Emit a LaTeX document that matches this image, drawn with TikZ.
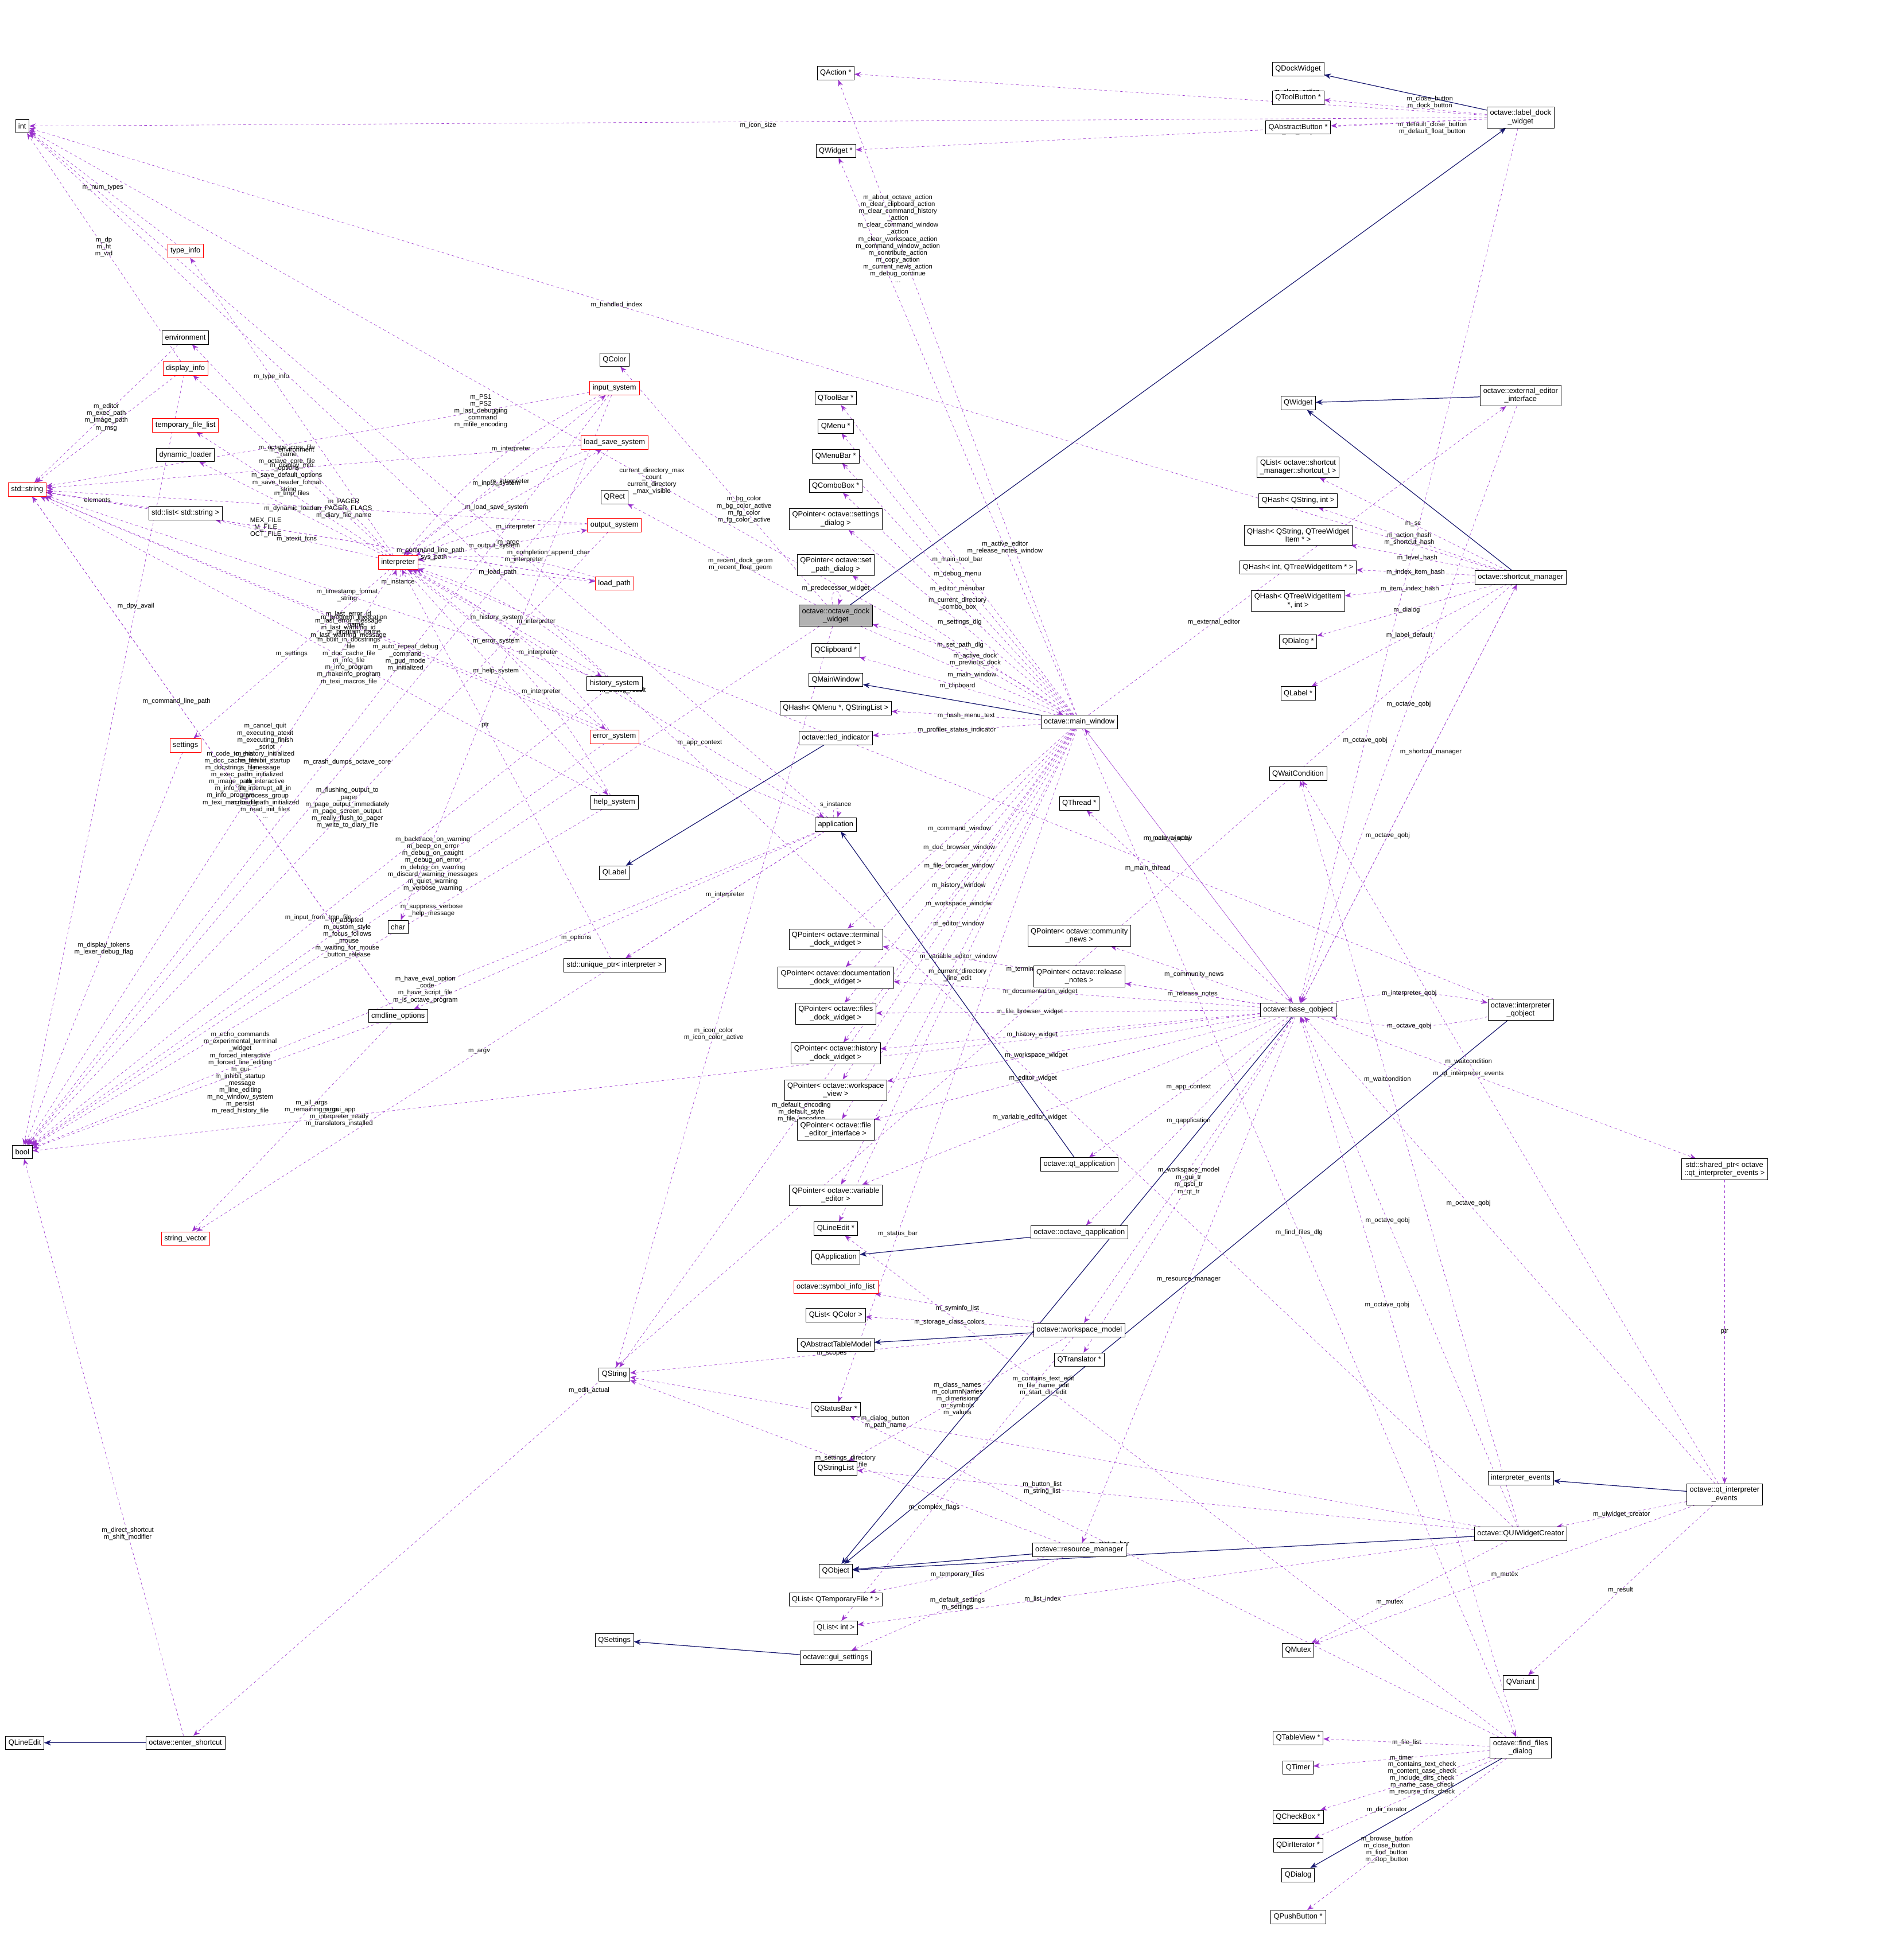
\documentclass[tikz,border=0pt]{standalone}
\usepackage{fontspec}
\setmainfont{Liberation Sans}
\usetikzlibrary{arrows.meta,backgrounds}
\definecolor{usecol}{HTML}{9A32CD}
\definecolor{inhcol}{HTML}{191970}
\tikzset{
  cls/.style={draw=black, fill=white, font=\fontsize{8.5}{9.5}\selectfont, inner sep=1.2mm, minimum height=5.5mm, align=center},
  redcls/.style={cls, draw=red},
  hl/.style={cls, fill=black!30},
  use/.style={draw=usecol, dashed, -{Stealth[length=2.6mm,width=2mm]}},
  inh/.style={draw=inhcol, thick, -{Stealth[length=2.8mm,width=2.2mm]}},
  lbl/.style={font=\fontsize{7.5}{8}\selectfont, inner sep=0.5pt, align=center}
}
\begin{document}
\catcode`\_=12
\begin{tikzpicture}[x=0.5mm, y=-0.5mm]
\useasboundingbox (0,0) rectangle (1540,1568);

% Left column
\node[cls] (int) at (18,102) {int};
\node[redcls] (typeinfo) at (150,203) {type_info};
\node[cls] (env) at (150,273) {environment};
\node[redcls] (dispinfo) at (150,298) {display_info};
\node[redcls] (tmpfiles) at (150,344) {temporary_file_list};
\node[cls] (dynload) at (150,368) {dynamic_loader};
\node[redcls] (stdstring) at (22,396) {std::string};
\node[cls] (strlist) at (150,415) {std::list< std::string >};
\node[redcls] (interp) at (322,455) {interpreter};
\node[redcls] (settings) at (150,603) {settings};
\node[cls] (bool) at (18,932) {bool};
\node[redcls] (strvec) at (150,1002) {string_vector};
\node[cls] (qlineedit) at (20,1410) {QLineEdit};
\node[cls] (entershortcut) at (150,1410) {octave::enter_shortcut};
\node[cls] (char) at (322,750) {char};
\node[cls] (cmdopts) at (322,822) {cmdline_options};

% Second column
\node[cls] (uniqptr) at (497,781) {std::unique_ptr< interpreter >};
\node[cls] (qcolor) at (497,291) {QColor};
\node[redcls] (inputsys) at (497,314) {input_system};
\node[redcls] (loadsave) at (497,358) {load_save_system};
\node[cls] (qrect) at (497,402) {QRect};
\node[redcls] (outputsys) at (497,425) {output_system};
\node[redcls] (loadpath) at (497,472) {load_path};
\node[cls] (histsys) at (497,553) {history_system};
\node[redcls] (errsys) at (497,596) {error_system};
\node[cls] (helpsys) at (497,649) {help_system};
\node[cls] (qlabel) at (497,706) {QLabel};
\node[cls] (qstring) at (497,1112) {QString};
\node[cls] (qsettings) at (497,1327) {QSettings};

% Third column
\node[cls] (qactionp) at (676,59) {QAction *};
\node[cls] (qwidgetp) at (676,122) {QWidget *};
\node[cls] (qtoolbarp) at (676,322) {QToolBar *};
\node[cls] (qmenup) at (676,345) {QMenu *};
\node[cls] (qmenubarp) at (676,369) {QMenuBar *};
\node[cls] (qcomboboxp) at (676,393) {QComboBox *};
\node[cls] (psettingsdlg) at (676,420) {QPointer< octave::settings\\_dialog >};
\node[cls] (psetpathdlg) at (676,457) {QPointer< octave::set\\_path_dialog >};
\node[hl] (dock) at (676,498) {octave::octave_dock\\_widget};
\node[cls] (qclipboardp) at (676,526) {QClipboard *};
\node[cls] (qmainwindow) at (676,550) {QMainWindow};
\node[cls] (qhashmenu) at (676,573) {QHash< QMenu *, QStringList >};
\node[cls] (led) at (676,597) {octave::led_indicator};
\node[cls] (app) at (676,667) {application};
\node[cls] (pterminal) at (676,760) {QPointer< octave::terminal\\_dock_widget >};
\node[cls] (pdoc) at (676,791) {QPointer< octave::documentation\\_dock_widget >};
\node[cls] (pfiles) at (676,820) {QPointer< octave::files\\_dock_widget >};
\node[cls] (phistory) at (676,852) {QPointer< octave::history\\_dock_widget >};
\node[cls] (pworkspace) at (676,882) {QPointer< octave::workspace\\_view >};
\node[cls] (peditor) at (676,914) {QPointer< octave::file\\_editor_interface >};
\node[cls] (pvareditor) at (676,967) {QPointer< octave::variable\\_editor >};
\node[cls] (qlineeditp) at (676,994) {QLineEdit *};
\node[cls] (qapplication) at (676,1017) {QApplication};
\node[redcls] (syminfo) at (676,1041) {octave::symbol_info_list};
\node[cls] (qlistcolor) at (676,1064) {QList< QColor >};
\node[cls] (qabstm) at (676,1088) {QAbstractTableModel};
\node[cls] (qstatusbarp) at (676,1140) {QStatusBar *};
\node[cls] (qstringlist) at (676,1188) {QStringList};
\node[cls] (qobject) at (676,1271) {QObject};
\node[cls] (qlisttmp) at (676,1294) {QList< QTemporaryFile * >};
\node[cls] (qlistint) at (676,1317) {QList< int >};
\node[cls] (guisettings) at (676,1341) {octave::gui_settings};

% Fourth column
\node[cls] (mainwin) at (873,584) {octave::main_window};
\node[cls] (qthreadp) at (873,650) {QThread *};
\node[cls] (pnews) at (873,757) {QPointer< octave::community\\_news >};
\node[cls] (prelnotes) at (873,790) {QPointer< octave::release\\_notes >};
\node[cls] (qtapp) at (873,942) {octave::qt_application};
\node[cls] (qapp) at (873,997) {octave::octave_qapplication};
\node[cls] (wsmodel) at (873,1076) {octave::workspace_model};
\node[cls] (qtranslatorp) at (873,1100) {QTranslator *};
\node[cls] (resmgr) at (873,1254) {octave::resource_manager};

% Fifth column
\node[cls] (qdockwidget) at (1050,56) {QDockWidget};
\node[cls] (qtoolbuttonp) at (1050,79) {QToolButton *};
\node[cls] (qabsbuttonp) at (1050,103) {QAbstractButton *};
\node[cls] (qwidget) at (1050,326) {QWidget};
\node[cls] (qlistsc) at (1050,378) {QList< octave::shortcut\\_manager::shortcut_t >};
\node[cls] (qhashsi) at (1050,405) {QHash< QString, int >};
\node[cls] (qhashsti) at (1050,433) {QHash< QString, QTreeWidget\\Item * >};
\node[cls] (qhashit) at (1050,459) {QHash< int, QTreeWidgetItem * >};
\node[cls] (qhashti) at (1050,486) {QHash< QTreeWidgetItem\\ *, int >};
\node[cls] (qdialogp) at (1050,519) {QDialog *};
\node[cls] (qlabelp) at (1050,561) {QLabel *};
\node[cls] (qwaitcond) at (1050,626) {QWaitCondition};
\node[cls] (baseqobj) at (1050,817) {octave::base_qobject};
\node[cls] (qmutex) at (1050,1335) {QMutex};
\node[cls] (qtableviewp) at (1050,1406) {QTableView *};
\node[cls] (qtimer) at (1050,1430) {QTimer};
\node[cls] (qcheckboxp) at (1050,1470) {QCheckBox *};
\node[cls] (qdiriterp) at (1050,1493) {QDirIterator *};
\node[cls] (qdialog) at (1050,1517) {QDialog};
\node[cls] (qpushbuttonp) at (1050,1551) {QPushButton *};

% Right columns
\node[cls] (labeldock) at (1230,95) {octave::label_dock\\_widget};
\node[cls] (exteditor) at (1230,320) {octave::external_editor\\_interface};
\node[cls] (shortcutmgr) at (1230,467) {octave::shortcut_manager};
\node[cls] (interpqobj) at (1230,817) {octave::interpreter\\_qobject};
\node[cls] (interpevents) at (1230,1196) {interpreter_events};
\node[cls] (uiwidget) at (1230,1241) {octave::QUIWidgetCreator};
\node[cls] (qvariant) at (1230,1361) {QVariant};
\node[cls] (findfiles) at (1230,1414) {octave::find_files\\_dialog};
\node[cls] (qtevents) at (1395,1209) {octave::qt_interpreter\\_events};
\node[cls] (sharedptr) at (1395,946) {std::shared_ptr< octave\\::qt_interpreter_events >};

\begin{pgfonlayer}{background}
% Inheritance
\draw[inh] (labeldock) -- (qdockwidget);
\draw[inh] (dock) -- (labeldock);
\draw[inh] (mainwin) -- (qmainwindow);
\draw[inh] (led) -- (qlabel);
\draw[inh] (exteditor) -- (qwidget);
\draw[inh] (shortcutmgr) -- (qwidget);
\draw[inh] (qtapp) -- (app);
\draw[inh] (qapp) -- (qapplication);
\draw[inh] (wsmodel) -- (qabstm);
\draw[inh] (resmgr) -- (qobject);
\draw[inh] (baseqobj) -- (qobject);
\draw[inh] (interpqobj) -- (qobject);
\draw[inh] (uiwidget) -- (qobject);
\draw[inh] (guisettings) -- (qsettings);
\draw[inh] (qtevents) -- (interpevents);
\draw[inh] (findfiles) -- (qdialog);
\draw[inh] (entershortcut) -- (qlineedit);

% Usage: interpreter core
\draw[use] (typeinfo) -- node[lbl] {m_num_types} (int);
\draw[use] (dispinfo) -- node[lbl] {m_dp\\m_ht\\m_wd} (int);
\draw[use] (dispinfo) -- node[lbl] {m_msg} (stdstring);
\draw[use] (dispinfo) -- node[lbl, pos=0.3] {m_dpy_avail} (bool);
\draw[use] (env) -- node[lbl] {m_editor\\m_exec_path\\m_image_path} (stdstring);
\draw[use] (strlist) -- node[lbl] {elements} (stdstring);
\draw[use] (settings) -- node[lbl] {m_display_tokens\\m_lexer_debug_flag} (bool);
\draw[use] (interp) -- node[lbl, pos=0.6] {m_type_info} (typeinfo);
\draw[use] (interp) -- node[lbl] {m_environment} (env);
\draw[use] (interp) -- node[lbl] {m_display_info} (dispinfo);
\draw[use] (interp) -- node[lbl] {m_tmp_files} (tmpfiles);
\draw[use] (interp) -- node[lbl] {m_dynamic_loader} (dynload);
\draw[use] (interp) -- node[lbl] {m_atexit_fcns} (strlist);
\draw[use] (interp) -- node[lbl] {m_settings} (settings);
\draw[use] (interp) -- node[lbl, pos=0.35] {m_cancel_quit\\m_executing_atexit\\m_executing_finish\\_script\\m_history_initialized\\m_inhibit_startup\\_message\\m_initialized\\m_interactive\\m_interrupt_all_in\\_process_group\\m_load_path_initialized\\m_read_init_files\\...} (bool);
\draw[use] (interp) to[loop below] node[lbl] {m_instance} (interp);
\foreach \sub/\nm in {inputsys/m_input_system, loadsave/m_load_save_system, outputsys/m_output_system, loadpath/m_load_path, histsys/m_history_system, errsys/m_error_system, helpsys/m_help_system} {
  \draw[use] (interp) -- node[lbl, pos=0.45] {\nm} (\sub);
  \draw[use] (\sub) to[bend right=12] node[lbl, pos=0.4] {m_interpreter} (interp);
}
\draw[use] (inputsys) -- node[lbl, pos=0.2] {m_PS1\\m_PS2\\m_last_debugging\\_command\\m_mfile_encoding} (stdstring);
\draw[use] (inputsys) -- node[lbl, pos=0.35] {m_auto_repeat_debug\\_command\\m_gud_mode\\m_initialized} (bool);
\draw[use] (inputsys) -- node[lbl, pos=0.3] {m_completion_append_char} (char);
\draw[use] (loadpath) -- node[lbl, pos=0.6] {MEX_FILE\\M_FILE\\OCT_FILE} (stdstring);
\draw[use] (loadsave) -- node[lbl, pos=0.55] {m_octave_core_file\\_name\\m_octave_core_file\\_options\\m_save_default_options\\m_save_header_format\\_string} (stdstring);
\draw[use] (loadsave) -- node[lbl, pos=0.45] {m_crash_dumps_octave_core} (bool);
\draw[use] (outputsys) -- node[lbl, pos=0.45] {m_PAGER\\m_PAGER_FLAGS\\m_diary_file_name} (stdstring);
\draw[use] (outputsys) -- node[lbl, pos=0.45] {m_flushing_output_to\\_pager\\m_page_output_immediately\\m_page_screen_output\\m_really_flush_to_pager\\m_write_to_diary_file} (bool);
\draw[use] (histsys) -- node[lbl, pos=0.45] {m_timestamp_format\\_string} (stdstring);
\draw[use] (histsys) -- node[lbl, pos=0.5] {m_input_from_tmp_file} (bool);
\draw[use] (loadpath) -- node[lbl, pos=0.3] {m_command_line_path\\s_sys_path} (stdstring);
\draw[use] (errsys) -- node[lbl, pos=0.45] {m_last_error_id\\m_last_error_message\\m_last_warning_id\\m_last_warning_message} (stdstring);
\draw[use] (errsys) -- node[lbl, pos=0.3] {m_backtrace_on_warning\\m_beep_on_error\\m_debug_on_caught\\m_debug_on_error\\m_debug_on_warning\\m_discard_warning_messages\\m_quiet_warning\\m_verbose_warning} (bool);
\draw[use] (helpsys) -- node[lbl, pos=0.45] {m_built_in_docstrings\\_file\\m_doc_cache_file\\m_info_file\\m_info_program\\m_makeinfo_program\\m_texi_macros_file} (stdstring);
\draw[use] (helpsys) -- node[lbl, pos=0.3] {m_suppress_verbose\\_help_message} (bool);
\draw[use] (cmdopts) -- node[lbl, pos=0.45] {m_code_to_eval\\m_doc_cache_file\\m_docstrings_file\\m_exec_path\\m_image_path\\m_info_file\\m_info_program\\m_texi_macros_file} (stdstring);
\draw[use] (cmdopts) -- node[lbl, pos=0.4] {m_echo_commands\\m_experimental_terminal\\_widget\\m_forced_interactive\\m_forced_line_editing\\m_gui\\m_inhibit_startup\\_message\\m_line_editing\\m_no_window_system\\m_persist\\m_read_history_file} (bool);
\draw[use] (cmdopts) -- node[lbl, pos=0.4] {m_all_args\\m_remaining_args} (strvec);
\draw[use] (cmdopts) -- node[lbl, pos=0.6] {m_command_line_path} (stdstring);

% Usage: application
\draw[use] (app) -- node[lbl, pos=0.6] {m_options} (cmdopts);
\draw[use] (app) -- node[lbl, pos=0.6] {m_program_invocation\\_name\\m_program_name} (stdstring);
\draw[use] (app) -- node[lbl, pos=0.5] {m_have_eval_option\\_code\\m_have_script_file\\m_is_octave_program} (bool);
\draw[use] (app) -- node[lbl, pos=0.55] {m_argv} (strvec);
\draw[use] (app) -- node[lbl, pos=0.4] {m_argc} (int);
\draw[use] (app) to[loop above] node[lbl] {s_instance} (app);
\draw[use] (app) -- node[lbl] {m_interpreter} (uniqptr);
\draw[use] (uniqptr) -- node[lbl, pos=0.6] {ptr} (interp);
\draw[use] (interp) -- node[lbl, pos=0.7] {m_app_context} (app);

% Usage: dock widgets
\draw[use] (dock) -- node[lbl, pos=0.4] {m_bg_color\\m_bg_color_active\\m_fg_color\\m_fg_color_active} (qcolor);
\draw[use] (dock) -- node[lbl, pos=0.4] {m_recent_dock_geom\\m_recent_float_geom} (qrect);
\draw[use] (dock) to[loop above] node[lbl] {m_predecessor_widget} (dock);
\draw[use] (dock) -- node[lbl, pos=0.55] {m_main_window} (mainwin);
\draw[use] (dock) -- node[lbl, pos=0.55] {m_icon_color\\m_icon_color_active} (qstring);
\draw[use] (dock) -- node[lbl, pos=0.6] {m_adopted\\m_custom_style\\m_focus_follows\\_mouse\\m_waiting_for_mouse\\_button_release} (bool);
\draw[use] (labeldock) -- node[lbl, pos=0.35, above] {m_close_button\\m_dock_button} (qtoolbuttonp);
\draw[use] (labeldock) -- node[lbl, pos=0.35, below] {m_default_close_button\\m_default_float_button} (qabsbuttonp);
\draw[use] (labeldock) -- node[lbl, pos=0.3, above] {m_close_action\\m_dock_action} (qactionp);
\draw[use] (labeldock) -- node[lbl, pos=0.3, below] {m_title_widget} (qwidgetp);
\draw[use] (labeldock) -- node[lbl, pos=0.5, below] {m_icon_size} (int);
\draw[use] (labeldock) -- node[lbl, pos=0.7] {m_octave_qobj} (baseqobj);

% Usage: main window
\draw[use] (mainwin) -- node[lbl, pos=0.75] {m_about_octave_action\\m_clear_clipboard_action\\m_clear_command_history\\_action\\m_clear_command_window\\_action\\m_clear_workspace_action\\m_command_window_action\\m_contribute_action\\m_copy_action\\m_current_news_action\\m_debug_continue\\...} (qactionp);
\draw[use] (mainwin) -- node[lbl, pos=0.3] {m_active_editor\\m_release_notes_window} (qwidgetp);
\draw[use] (mainwin) -- node[lbl] {m_main_tool_bar} (qtoolbarp);
\draw[use] (mainwin) -- node[lbl] {m_debug_menu} (qmenup);
\draw[use] (mainwin) -- node[lbl] {m_editor_menubar} (qmenubarp);
\draw[use] (mainwin) -- node[lbl] {m_current_directory\\_combo_box} (qcomboboxp);
\draw[use] (mainwin) -- node[lbl] {m_settings_dlg} (psettingsdlg);
\draw[use] (mainwin) -- node[lbl] {m_set_path_dlg} (psetpathdlg);
\draw[use] (mainwin) to[bend right=10] node[lbl] {m_active_dock\\m_previous_dock} (dock);
\draw[use] (mainwin) -- node[lbl] {m_clipboard} (qclipboardp);
\draw[use] (mainwin) -- node[lbl] {m_hash_menu_text} (qhashmenu);
\draw[use] (mainwin) -- node[lbl] {m_profiler_status_indicator} (led);
\draw[use] (mainwin) -- node[lbl] {m_command_window} (pterminal);
\draw[use] (mainwin) -- node[lbl] {m_doc_browser_window} (pdoc);
\draw[use] (mainwin) -- node[lbl] {m_file_browser_window} (pfiles);
\draw[use] (mainwin) -- node[lbl] {m_history_window} (phistory);
\draw[use] (mainwin) -- node[lbl] {m_workspace_window} (pworkspace);
\draw[use] (mainwin) -- node[lbl] {m_editor_window} (peditor);
\draw[use] (mainwin) -- node[lbl] {m_variable_editor_window} (pvareditor);
\draw[use] (mainwin) -- node[lbl] {m_current_directory\\_line_edit} (qlineeditp);
\draw[use] (mainwin) -- node[lbl, pos=0.75] {m_status_bar} (qstatusbarp);
\draw[use] (mainwin) -- node[lbl, pos=0.4] {current_directory_max\\_count\\current_directory\\_max_visible} (int);
\draw[use] (mainwin) -- node[lbl, pos=0.3] {m_external_editor} (exteditor);
\draw[use] (mainwin) -- node[lbl, pos=0.4] {m_octave_qobj} (baseqobj);
\draw[use] (mainwin) -- node[lbl, pos=0.5] {m_find_files_dlg} (findfiles);
\draw[use] (mainwin) -- node[lbl, pos=0.6] {m_default_encoding\\m_default_style\\m_file_encoding} (qstring);

% Usage: shortcut manager and editor interface
\draw[use] (exteditor) -- node[lbl, pos=0.5] {m_octave_qobj} (baseqobj);
\draw[use] (shortcutmgr) -- node[lbl] {m_sc} (qlistsc);
\draw[use] (shortcutmgr) -- node[lbl] {m_action_hash\\m_shortcut_hash} (qhashsi);
\draw[use] (shortcutmgr) -- node[lbl] {m_level_hash} (qhashsti);
\draw[use] (shortcutmgr) -- node[lbl] {m_index_item_hash} (qhashit);
\draw[use] (shortcutmgr) -- node[lbl] {m_item_index_hash} (qhashti);
\draw[use] (shortcutmgr) -- node[lbl] {m_dialog} (qdialogp);
\draw[use] (shortcutmgr) -- node[lbl] {m_label_default} (qlabelp);
\draw[use] (shortcutmgr) -- node[lbl, pos=0.6] {m_octave_qobj} (baseqobj);
\draw[use] (shortcutmgr) -- node[lbl, pos=0.6] {m_handled_index} (int);
\draw[use] (shortcutmgr) -- node[lbl, pos=0.7] {m_edit_actual} (entershortcut);
\draw[use] (entershortcut) -- node[lbl, pos=0.35] {m_direct_shortcut\\m_shift_modifier} (bool);

% Usage: base qobject
\draw[use] (baseqobj) -- node[lbl, pos=0.6] {m_shortcut_manager} (shortcutmgr);
\draw[use] (baseqobj) -- node[lbl, pos=0.6] {m_main_window} (mainwin);
\draw[use] (baseqobj) -- node[lbl, pos=0.7] {m_main_thread} (qthreadp);
\draw[use] (baseqobj) -- node[lbl] {m_community_news} (pnews);
\draw[use] (baseqobj) -- node[lbl] {m_release_notes} (prelnotes);
\draw[use] (baseqobj) -- node[lbl, pos=0.6] {m_terminal_widget} (pterminal);
\draw[use] (baseqobj) -- node[lbl, pos=0.6] {m_documentation_widget} (pdoc);
\draw[use] (baseqobj) -- node[lbl, pos=0.6] {m_file_browser_widget} (pfiles);
\draw[use] (baseqobj) -- node[lbl, pos=0.6] {m_history_widget} (phistory);
\draw[use] (baseqobj) -- node[lbl, pos=0.6] {m_workspace_widget} (pworkspace);
\draw[use] (baseqobj) -- node[lbl, pos=0.6] {m_editor_widget} (peditor);
\draw[use] (baseqobj) -- node[lbl, pos=0.6] {m_variable_editor_widget} (pvareditor);
\draw[use] (baseqobj) -- node[lbl] {m_app_context} (qtapp);
\draw[use] (baseqobj) -- node[lbl] {m_qapplication} (qapp);
\draw[use] (baseqobj) -- node[lbl] {m_workspace_model} (wsmodel);
\draw[use] (baseqobj) -- node[lbl] {m_gui_tr\\m_qsci_tr\\m_qt_tr} (qtranslatorp);
\draw[use] (baseqobj) -- node[lbl] {m_resource_manager} (resmgr);
\draw[use] (baseqobj) -- node[lbl, pos=0.75] {m_gui_app\\m_interpreter_ready\\m_translators_installed} (bool);
\draw[use] (baseqobj) to[bend left=12] node[lbl] {m_interpreter_qobj} (interpqobj);
\draw[use] (interpqobj) to[bend left=12] node[lbl] {m_octave_qobj} (baseqobj);
\draw[use] (interpqobj) -- node[lbl, pos=0.6] {m_interpreter} (interp);
\draw[use] (baseqobj) -- node[lbl, pos=0.4] {m_qt_interpreter_events} (sharedptr);
\draw[use] (sharedptr) -- node[lbl] {ptr} (qtevents);

% Usage: workspace model, resource manager
\draw[use] (wsmodel) -- node[lbl] {m_syminfo_list} (syminfo);
\draw[use] (wsmodel) -- node[lbl] {m_storage_class_colors} (qlistcolor);
\draw[use] (wsmodel) -- node[lbl] {m_scopes} (qstring);
\draw[use] (wsmodel) -- node[lbl] {m_class_names\\m_columnNames\\m_dimensions\\m_symbols\\m_values} (qstringlist);
\draw[use] (wsmodel) -- node[lbl, pos=0.6] {m_complex_flags} (qlistint);
\draw[use] (resmgr) -- node[lbl] {m_settings_directory\\m_settings_file} (qstring);
\draw[use] (resmgr) -- node[lbl] {m_temporary_files} (qlisttmp);
\draw[use] (resmgr) -- node[lbl] {m_default_settings\\m_settings} (guisettings);

% Usage: interpreter events, widget creator
\draw[use] (qtevents) -- node[lbl] {m_uiwidget_creator} (uiwidget);
\draw[use] (qtevents) -- node[lbl] {m_mutex} (qmutex);
\draw[use] (qtevents) -- node[lbl, pos=0.6] {m_waitcondition} (qwaitcond);
\draw[use] (qtevents) -- node[lbl] {m_result} (qvariant);
\draw[use] (qtevents) -- node[lbl, pos=0.6] {m_octave_qobj} (baseqobj);
\draw[use] (uiwidget) -- node[lbl, pos=0.6] {m_mutex} (qmutex);
\draw[use] (uiwidget) -- node[lbl, pos=0.6] {m_waitcondition} (qwaitcond);
\draw[use] (uiwidget) -- node[lbl, pos=0.7] {m_dialog_button\\m_path_name} (qstring);
\draw[use] (uiwidget) -- node[lbl, pos=0.7] {m_button_list\\m_string_list} (qstringlist);
\draw[use] (uiwidget) -- node[lbl, pos=0.7] {m_list_index} (qlistint);
\draw[use] (uiwidget) -- node[lbl, pos=0.6] {m_dialog_result} (int);
\draw[use] (uiwidget) -- node[lbl, pos=0.6] {m_octave_qobj} (baseqobj);

% Usage: find files dialog
\draw[use] (findfiles) -- node[lbl] {m_file_list} (qtableviewp);
\draw[use] (findfiles) -- node[lbl] {m_timer} (qtimer);
\draw[use] (findfiles) -- node[lbl, pos=0.4] {m_contains_text_check\\m_content_case_check\\m_include_dirs_check\\m_name_case_check\\m_recurse_dirs_check} (qcheckboxp);
\draw[use] (findfiles) -- node[lbl, pos=0.6, below] {m_dir_iterator} (qdiriterp);
\draw[use] (findfiles) -- node[lbl, pos=0.6] {m_browse_button\\m_close_button\\m_find_button\\m_stop_button} (qpushbuttonp);
\draw[use] (findfiles) -- node[lbl, pos=0.7] {m_contains_text_edit\\m_file_name_edit\\m_start_dir_edit} (qlineeditp);
\draw[use] (findfiles) -- node[lbl, pos=0.6] {m_status_bar} (qstatusbarp);
\draw[use] (findfiles) -- node[lbl, pos=0.6] {m_octave_qobj} (baseqobj);
\end{pgfonlayer}

\end{tikzpicture}
\end{document}
